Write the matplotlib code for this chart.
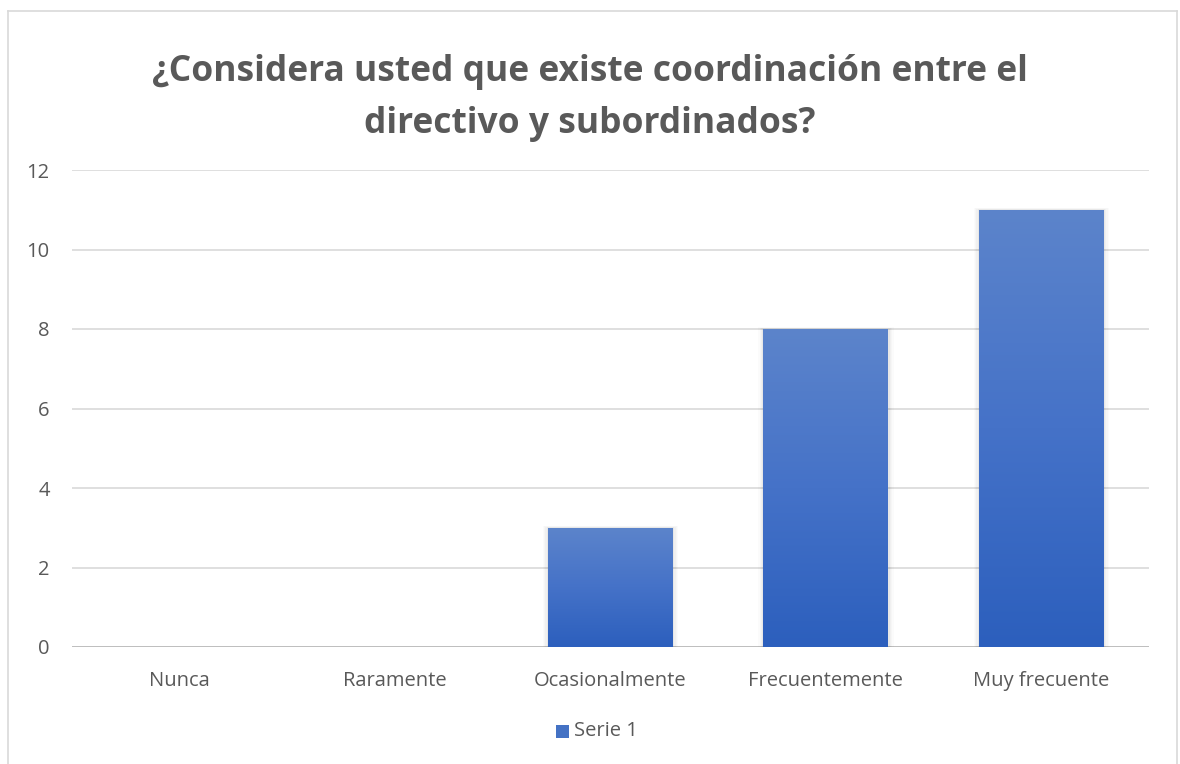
import numpy as np
import matplotlib
matplotlib.use("Agg")
import matplotlib.pyplot as plt
from matplotlib.patches import Rectangle
from matplotlib.lines import Line2D
from matplotlib.colors import LinearSegmentedColormap

categories = ["Nunca", "Raramente", "Ocasionalmente", "Frecuentemente", "Muy frecuente"]
values = [0, 0, 3, 8, 11]
series_name = "Serie 1"
title = "¿Considera usted que existe coordinación entre el\ndirectivo y subordinados?"
yticks = [0, 2, 4, 6, 8, 10, 12]

TEXT = "#595959"
GRID = "#D9D9D9"
FONT = ["Open Sans", "DejaVu Sans"]

fig = plt.figure(figsize=(11.8, 7.64), dpi=100)
fig.patch.set_facecolor("white")

# chart frame (left, top, right edges)
W, H = 1180, 764
x0, x1, y0 = 8 / W, 1177 / W, 1 - 11 / H
for xs, ys in [([x0, x0], [0, y0]), ([x0, x1], [y0, y0]), ([x1, x1], [y0, 0])]:
    fig.add_artist(Line2D(xs, ys, color=GRID, lw=1.2, transform=fig.transFigure))

ax = fig.add_axes([72 / W, 1 - 647 / H, (1149 - 72) / W, (647 - 170) / H])
x = np.arange(len(categories))

for s in ax.spines.values():
    s.set_visible(False)
ax.set_yticks(yticks)
ax.yaxis.grid(True, color=GRID, lw=1.2)
ax.set_axisbelow(True)
ax.axhline(0, color="#BFBFBF", lw=1.4, zorder=1)
ax.tick_params(length=0, labelsize=14.5, labelcolor=TEXT)
ax.tick_params(axis="y", pad=16)
ax.tick_params(axis="x", pad=17)
ax.set_xticks(x)
ax.set_xticklabels(categories, fontfamily=FONT)
for lbl in ax.get_yticklabels():
    lbl.set_fontfamily(FONT)

width = 0.58
bars = ax.bar(x, values, width=width, color="none", edgecolor="none", zorder=3)

cmap = LinearSegmentedColormap.from_list("bar", ["#2C5FBD", "#4572C8", "#5C84CB"])
grad = np.linspace(0, 1, 256).reshape(-1, 1)
for b, v in zip(bars, values):
    if v <= 0:
        continue
    bx, bw = b.get_x(), b.get_width()
    # soft shadow around the bar
    for i, a in enumerate([0.035, 0.025, 0.02, 0.015]):
        d = 0.006 * (i + 1)
        ax.add_patch(Rectangle((bx - d, 0), bw + 2 * d, v + d * 2,
                               facecolor="#000000", alpha=a, lw=0, zorder=2))
    im = ax.imshow(grad, cmap=cmap, aspect="auto", origin="lower",
                   extent=(bx, bx + bw, 0, v), zorder=3)
    im.set_clip_path(b)

ax.set_xlim(-0.5, len(categories) - 0.5)
ax.set_ylim(0, 12)

fig.text(0.5, 1 - 98 / H, title, ha="center", va="center", fontsize=25.5,
         fontweight="bold", color=TEXT, family=FONT, linespacing=1.62)

# legend
fig.patches.append(Rectangle((556 / W, 1 - 738 / H), 13 / W, 13 / H,
                             facecolor="#4472C4", transform=fig.transFigure))
fig.text(574 / W, 1 - 731 / H, series_name, ha="left", va="center",
         fontsize=14.5, color=TEXT, family=FONT)

fig.savefig("out.png", dpi=100)
